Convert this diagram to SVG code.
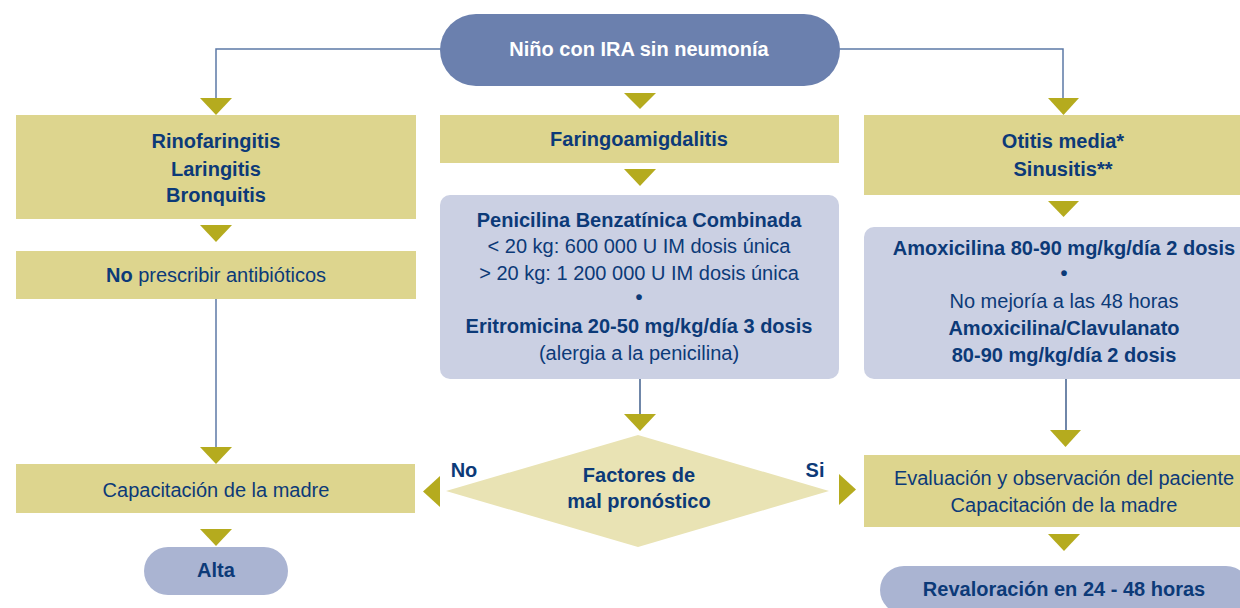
<svg xmlns="http://www.w3.org/2000/svg" width="1240" height="608" viewBox="0 0 1240 608">
<defs>
<style>
text{font-family:"Liberation Sans",Arial,sans-serif;font-size:20px;fill:#0c3a78;text-anchor:middle}
.b{font-weight:bold}
.w{fill:#ffffff;font-weight:bold}
.yb{fill:#ddd58e}
.bb{fill:#cbd0e3}
.pill{fill:#aab4d2}
.ar{fill:#b5ab1e}
.ln{fill:none;stroke:#5c79a6;stroke-width:1.5}
.ld{fill:none;stroke:#23467a;stroke-width:1.3}
</style>
</defs>
<g id="connectors">
<polyline class="ln" points="441,49 216,49 216,99"/>
<polyline class="ln" points="839,49 1063,49 1063,99"/>
<line class="ln" x1="216" y1="299" x2="216" y2="448" stroke="#7e98bf"/>
<line class="ld" x1="640" y1="379" x2="640" y2="415"/>
<line class="ld" x1="1066" y1="379" x2="1066" y2="431"/>
<polygon class="ar" points="200,98 232,98 216,115"/>
<polygon class="ar" points="624,93 656,93 640,109"/>
<polygon class="ar" points="1048,98 1079,98 1063.5,115"/>
<polygon class="ar" points="200,225 232,225 216,242"/>
<polygon class="ar" points="624,169 656,169 640,186"/>
<polygon class="ar" points="1048,201 1079,201 1063.5,217"/>
<polygon class="ar" points="200,447 232,447 216,464"/>
<polygon class="ar" points="624,414 656,414 640,431"/>
<polygon class="ar" points="1050,430 1081,430 1065.5,447"/>
<polygon class="ar" points="200,529 232,529 216,546"/>
<polygon class="ar" points="1048,534 1080,534 1064,551"/>
<polygon class="ar" points="440,476 440,507 423,491.5"/>
<polygon class="ar" points="839,474 839,505 856,489.5"/>
<text class="b" x="464" y="477">No</text>
<text class="b" x="815" y="477">Si</text>
</g>
<g id="n-inicio">
<rect x="440" y="14" width="400" height="72" rx="36" fill="#6b80ae"/>
<text class="w" x="639" y="56">Niño con IRA sin neumonía</text>
</g>
<g id="n-rino">
<rect class="yb" x="16" y="115" width="400" height="104"/>
<text class="b" x="216" y="148">Rinofaringitis</text>
<text class="b" x="216" y="176">Laringitis</text>
<text class="b" x="216" y="202">Bronquitis</text>
</g>
<g id="n-noprescribir">
<rect class="yb" x="16" y="251" width="400" height="48"/>
<text x="216" y="282"><tspan class="b">No</tspan> prescribir antibióticos</text>
</g>
<g id="n-capacitacion">
<rect class="yb" x="16" y="464" width="399" height="49"/>
<text x="216" y="497">Capacitación de la madre</text>
</g>
<g id="n-alta">
<rect class="pill" x="144" y="547" width="144" height="48" rx="24"/>
<text class="b" x="216" y="577">Alta</text>
</g>
<g id="n-faringo">
<rect class="yb" x="440" y="115" width="399" height="48"/>
<text class="b" x="639" y="146">Faringoamigdalitis</text>
</g>
<g id="n-penicilina">
<rect class="bb" x="440" y="195" width="399" height="184" rx="10"/>
<text class="b" x="639" y="227">Penicilina Benzatínica Combinada</text>
<text x="639" y="253">&lt; 20 kg: 600 000 U IM dosis única</text>
<text x="639" y="280">&gt; 20 kg: 1 200 000 U IM dosis única</text>
<text class="b" x="639" y="304">•</text>
<text class="b" x="639" y="333">Eritromicina 20-50 mg/kg/día 3 dosis</text>
<text x="639" y="360">(alergia a la penicilina)</text>
</g>
<g id="n-factores">
<polygon points="446,491 638,435 829,491 638,547" fill="#e9e3b4"/>
<text class="b" x="639" y="482">Factores de</text>
<text class="b" x="639" y="508">mal pronóstico</text>
</g>
<g id="n-otitis">
<rect class="yb" x="864" y="115" width="400" height="80"/>
<text class="b" x="1063" y="148">Otitis media*</text>
<text class="b" x="1063" y="176">Sinusitis**</text>
</g>
<g id="n-amoxicilina">
<rect class="bb" x="864" y="227" width="400" height="152" rx="10"/>
<text class="b" x="1064" y="255">Amoxicilina 80-90 mg/kg/día 2 dosis</text>
<text class="b" x="1064" y="280">•</text>
<text x="1064" y="308">No mejoría a las 48 horas</text>
<text class="b" x="1064" y="335">Amoxicilina/Clavulanato</text>
<text class="b" x="1064" y="362">80-90 mg/kg/día 2 dosis</text>
</g>
<g id="n-evaluacion">
<rect class="yb" x="864" y="455" width="400" height="72"/>
<text x="1064" y="485">Evaluación y observación del paciente</text>
<text x="1064" y="512">Capacitación de la madre</text>
</g>
<g id="n-revaloracion">
<rect class="pill" x="880" y="566" width="370" height="48" rx="24"/>
<text class="b" x="1064" y="596">Revaloración en 24 - 48 horas</text>
</g>
</svg>
